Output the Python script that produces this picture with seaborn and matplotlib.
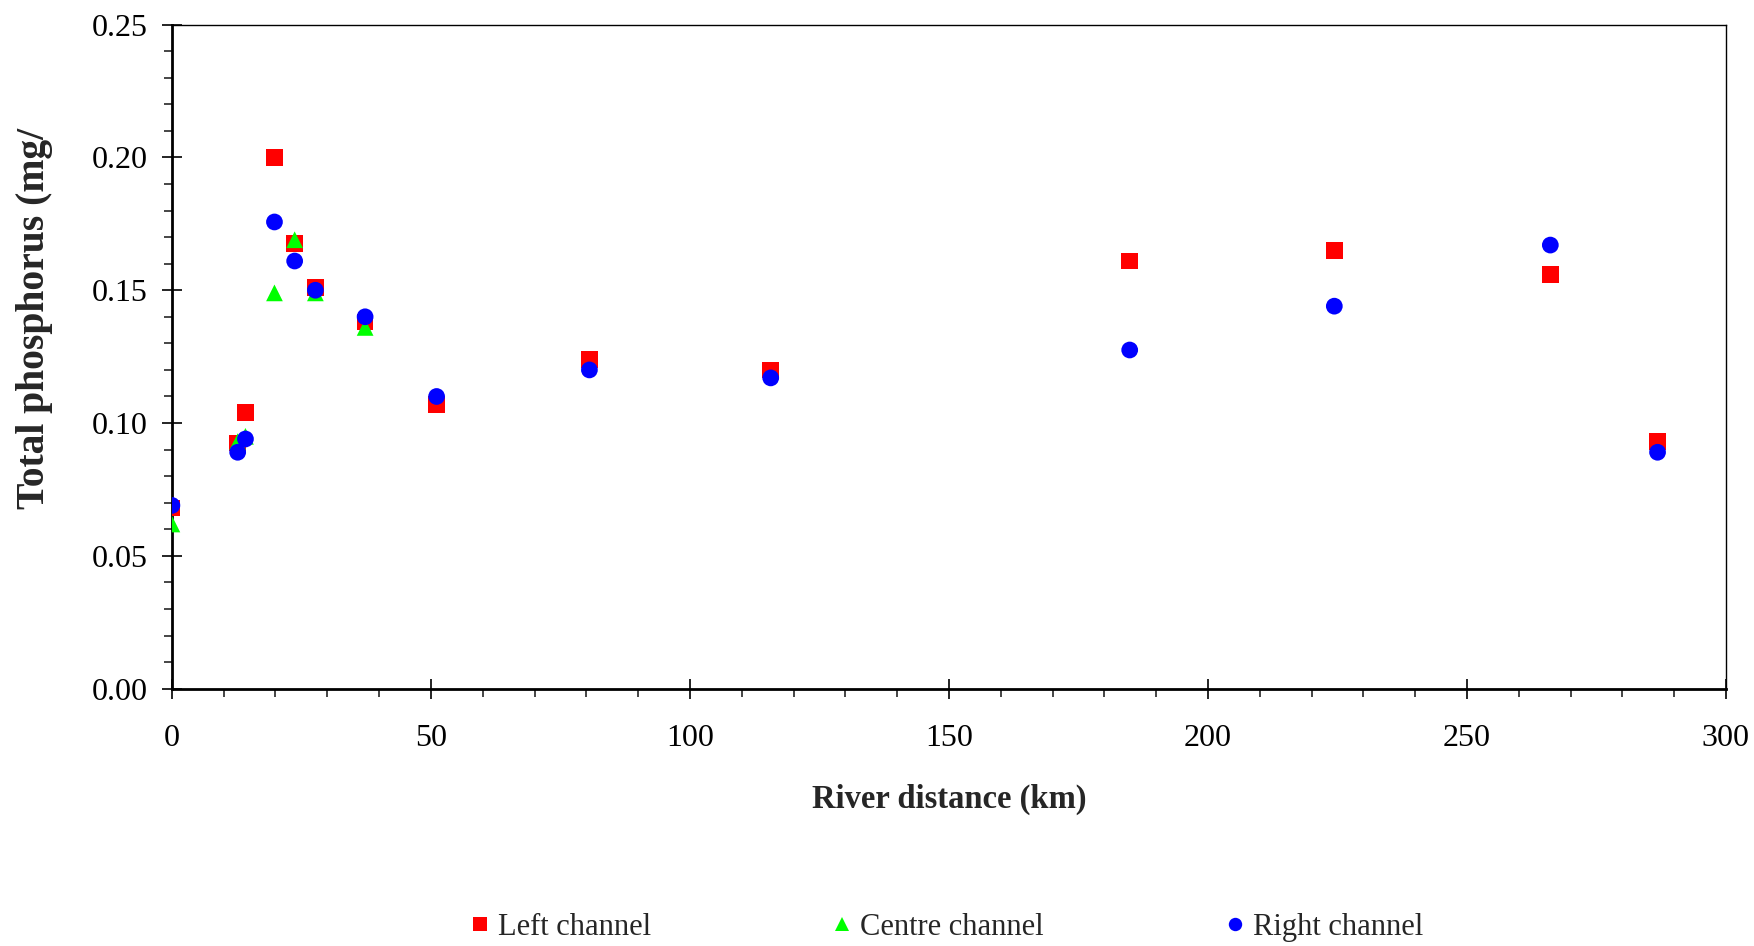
import numpy as np
import pandas as pd
import matplotlib
matplotlib.use("Agg")
import matplotlib.pyplot as plt
import seaborn as sns
from matplotlib.ticker import MultipleLocator, FormatStrFormatter

# ---- data ----
left_km = [0, 12.7, 14.2, 19.8, 23.7, 27.7, 37.3, 51.1, 80.6, 115.6, 184.9, 224.4, 266.1, 286.8]
left_tp = [0.068, 0.0925, 0.104, 0.200, 0.1675, 0.151, 0.138, 0.107, 0.124, 0.120, 0.161, 0.165, 0.156, 0.093]

centre_km = [0, 12.7, 14.2, 19.8, 23.7, 27.7, 37.3]
centre_tp = [0.062, 0.093, 0.095, 0.149, 0.169, 0.149, 0.136]

right_km = [0, 12.7, 14.2, 19.8, 23.7, 27.7, 37.3, 51.1, 80.6, 115.6, 184.9, 224.4, 266.1, 286.8]
right_tp = [0.069, 0.089, 0.094, 0.1757, 0.161, 0.150, 0.140, 0.110, 0.120, 0.117, 0.1275, 0.144, 0.167, 0.089]

channels = ["Left channel", "Centre channel", "Right channel"]
colors = {"Left channel": "#ff0000", "Centre channel": "#00ff00", "Right channel": "#0000ff"}
markers = {"Left channel": "s", "Centre channel": "^", "Right channel": "o"}

df = pd.concat([
    pd.DataFrame({"km": left_km, "tp": left_tp, "channel": channels[0]}),
    pd.DataFrame({"km": centre_km, "tp": centre_tp, "channel": channels[1]}),
    pd.DataFrame({"km": right_km, "tp": right_tp, "channel": channels[2]}),
], ignore_index=True)

sns.set_style("white")
plt.rcParams["font.family"] = ["Liberation Serif", "DejaVu Serif"]

fig = plt.figure(figsize=(17.54, 9.46), dpi=100)
ax = fig.add_axes([0.098, 0.272, 0.886, 0.702])

sns.scatterplot(data=df, x="km", y="tp", hue="channel", style="channel",
                hue_order=channels, style_order=channels,
                palette=colors, markers=markers, s=145, linewidth=0,
                ax=ax, legend=True, zorder=3)

ax.set_xlim(0, 300)
ax.set_ylim(0, 0.25)
ax.xaxis.set_major_locator(MultipleLocator(50))
ax.xaxis.set_minor_locator(MultipleLocator(10))
ax.yaxis.set_major_locator(MultipleLocator(0.05))
ax.yaxis.set_minor_locator(MultipleLocator(0.01))
ax.yaxis.set_major_formatter(FormatStrFormatter("%.2f"))

for name, sp in ax.spines.items():
    sp.set_color("black")
    sp.set_linewidth(2.0 if name in ("left", "bottom") else 1.0)

ax.tick_params(which="major", direction="inout", length=15, width=1.2,
               labelsize=23, colors="black", bottom=True, left=True)
ax.tick_params(axis="y", which="major", pad=10)
ax.tick_params(axis="x", which="major", pad=18)
ax.tick_params(which="minor", direction="out", length=6, width=1.2,
               bottom=True, left=True)

ax.set_xlabel("River distance (km)", fontsize=23.5, fontweight="bold", labelpad=22)
ax.set_ylabel("Total phosphorus (mg/", fontsize=28.5, fontweight="bold", labelpad=28)
ax.yaxis.label.set_y(0.557)

handles, labels = ax.get_legend_handles_labels()
ax.get_legend().remove()
fig.legend(handles, labels, loc="center", bbox_to_anchor=(0.539, 0.02),
           ncol=3, frameon=False, fontsize=22, columnspacing=5.85,
           handlelength=0.8, handletextpad=0.2, markerscale=0.8)

fig.savefig("out.png", dpi=100)
